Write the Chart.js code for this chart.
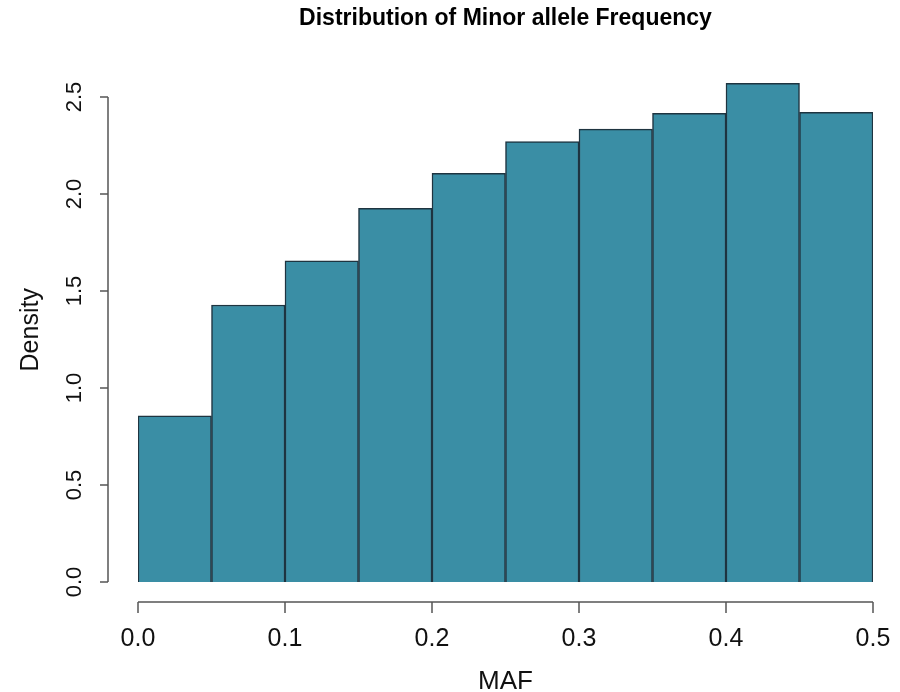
<!DOCTYPE html>
<html>
<head>
<meta charset="utf-8">
<script src="https://cdn.jsdelivr.net/npm/chart.js@4"></script>
<style>
  html, body { margin: 0; padding: 0; background: #fff; }
  #wrap { width: 900px; height: 692px; position: relative; }
</style>
</head>
<body>
<div id="wrap"><canvas id="mafHist"></canvas></div>
<script>
// histogram bins of minor allele frequency (bin midpoints, width 0.05)
const binMids = [0.025, 0.075, 0.125, 0.175, 0.225, 0.275, 0.325, 0.375, 0.425, 0.475];
const density = [0.856, 1.428, 1.655, 1.926, 2.107, 2.270, 2.334, 2.416, 2.571, 2.421];
const xTicks = [0, 0.1, 0.2, 0.3, 0.4, 0.5];
const xTickLabels = ["0.0", "0.1", "0.2", "0.3", "0.4", "0.5"];
const yTicks = [0, 0.5, 1, 1.5, 2, 2.5];
const yTickLabels = ["0.0", "0.5", "1.0", "1.5", "2.0", "2.5"];

const FONT = "'Liberation Sans', Arial, Helvetica, sans-serif";

// R style axes: lines that stop at the first/last tick, set off from the plot
const rAxes = {
  id: "rAxes",
  afterDraw(chart) {
    const { ctx, scales: { x, y } } = chart;
    const yAxisX = 108, xAxisY = 602;
    ctx.save();
    ctx.strokeStyle = "#555";
    ctx.lineWidth = 1.5;
    ctx.beginPath();
    ctx.moveTo(yAxisX, y.getPixelForValue(yTicks[0]));
    ctx.lineTo(yAxisX, y.getPixelForValue(yTicks[yTicks.length - 1]));
    yTicks.forEach(v => {
      const py = y.getPixelForValue(v);
      ctx.moveTo(yAxisX, py);
      ctx.lineTo(yAxisX - 8, py);
    });
    ctx.moveTo(x.getPixelForValue(xTicks[0]), xAxisY);
    ctx.lineTo(x.getPixelForValue(xTicks[xTicks.length - 1]), xAxisY);
    xTicks.forEach(v => {
      const px = x.getPixelForValue(v);
      ctx.moveTo(px, xAxisY);
      ctx.lineTo(px, xAxisY + 11);
    });
    ctx.stroke();
    ctx.restore();
  }
};

const data = binMids.map((m, i) => ({ x: m, y: density[i] }));

new Chart(document.getElementById("mafHist"), {
  type: "bar",
  data: {
    datasets: [{
      label: "MAF",
      data: data,
      backgroundColor: "#3a8ea5",
      borderColor: "#1e3440",
      borderWidth: 1.5,
      barPercentage: 1,
      categoryPercentage: 1,
      grouped: false
    }]
  },
  options: {
    responsive: true,
    maintainAspectRatio: false,
    animation: false,
    layout: { padding: { left: 0, right: 27, top: 0, bottom: 0 } },
    plugins: {
      legend: { display: false },
      tooltip: { enabled: false },
      title: {
        display: true,
        fullSize: false,
        text: "Distribution of Minor allele Frequency",
        color: "#000",
        font: { family: FONT, size: 23, weight: "bold" },
        padding: { top: 5, bottom: 45 }
      }
    },
    scales: {
      x: {
        type: "linear",
        offset: false,
        min: 0,
        max: 0.5,
        afterBuildTicks: s => { s.ticks = xTicks.map(v => ({ value: v })); },
        afterFit: s => { s.height = 110; s.paddingLeft = 0; s.paddingRight = 0; },
        grid: { display: false, offset: false },
        border: { display: false },
        ticks: {
          padding: 34,
          color: "#111",
          font: { family: FONT, size: 25 },
          callback: (v) => xTickLabels[xTicks.indexOf(v)]
        },
        title: {
          display: true,
          text: "MAF",
          color: "#111",
          font: { family: FONT, size: 26, lineHeight: 1 },
          padding: { top: 0, bottom: -3 }
        }
      },
      y: {
        min: 0,
        max: 2.6,
        afterBuildTicks: s => { s.ticks = yTicks.map(v => ({ value: v })); },
        afterFit: s => { s.width = 138; s.paddingTop = 0; s.paddingBottom = 0; },
        grid: { display: false },
        border: { display: false },
        ticks: {
          padding: 40,
          minRotation: 90,
          maxRotation: 90,
          crossAlign: "center",
          color: "#111",
          font: { family: FONT, size: 22 },
          callback: (v) => yTickLabels[yTicks.indexOf(v)]
        },
        title: {
          display: true,
          text: "Density",
          color: "#111",
          font: { family: FONT, size: 25, lineHeight: 1.2 },
          padding: { top: 16, bottom: 0 }
        }
      }
    }
  },
  plugins: [rAxes]
});
</script>
</body>
</html>
